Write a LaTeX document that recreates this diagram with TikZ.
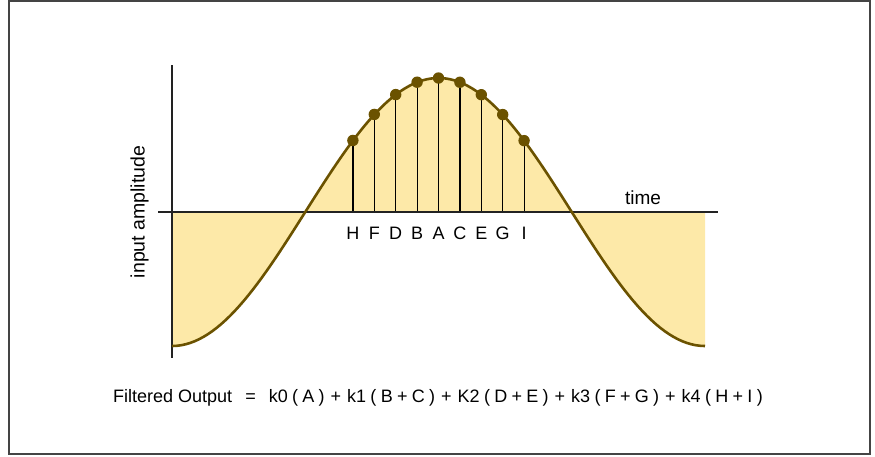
\documentclass[tikz,border=0pt]{standalone}
\usepackage{fontspec}
\setmainfont{Liberation Sans}
\usepackage{tikz}
\definecolor{wavefill}{HTML}{FDE9A8}
\definecolor{wavecol}{HTML}{6B5200}
\definecolor{axiscol}{HTML}{222222}
\definecolor{framecol}{HTML}{444444}
\newcommand{\gp}{\hspace{4.3pt}}
\newcommand{\pl}{\hspace{6pt}+\hspace{6pt}}

\begin{document}
\begin{tikzpicture}[x=1pt,y=-1pt,
  frame/.style={draw=framecol,line width=2pt},
  axis/.style={draw=axiscol,line width=1.8pt},
  wave/.style={draw=wavecol,line width=2.6pt,line join=round},
  sample/.style={draw=black,line width=1.2pt},
  tap/.style={fill=wavecol},
  lbl/.style={font=\fontsize{18}{20}\selectfont,inner sep=0pt}]
\useasboundingbox (0,0) rectangle (875,456);
\draw[frame] (8.5,0.8) rectangle (870,454);

% shaded area under the input wave
\fill[wavefill] (172,212) -- plot[domain=172:705,samples=120]
  (\x,{212-134*cos((\x-438.5)/533*360)}) -- (705,212) -- cycle;

% filter taps
\foreach \k/\t in {-4/H,-3/F,-2/D,-1/B,0/A,1/C,2/E,3/G,4/I}{
  \pgfmathsetmacro{\x}{438.5+21.4*\k}
  \pgfmathsetmacro{\y}{212-134*cos(21.4*\k/533*360)}
  \coordinate (s\t) at (\x,212);
  \coordinate (d\t) at (\x,\y);
  \draw[sample] (s\t) -- (d\t);
  \node[lbl,anchor=base] (l\t) at (\x,239) {\t};
}

% axes
\coordinate (xl) at (158,212);
\coordinate (xr) at (718,212);
\coordinate (yt) at (172,65);
\coordinate (yb) at (172,358);
\draw[axis] (xl) -- (xr);
\draw[axis] (yt) -- (yb);
\node[font=\fontsize{19}{21}\selectfont,anchor=base] (time) at (643,204) {time};
\node[font=\fontsize{19.5}{21}\selectfont,rotate=90] (amp) at (139.5,212) {input amplitude};

% input wave
\draw[wave] plot[domain=172:705,samples=120]
  (\x,{212-134*cos((\x-438.5)/533*360)});
\foreach \t in {H,F,D,B,A,C,E,G,I}
  \fill[tap] (d\t) circle (5.7pt);

\node[font=\fontsize{18}{20}\selectfont,anchor=base west,inner sep=0pt] (out) at (113,402)
{Filtered Output\hspace{13pt}=\hspace{13pt}k0\gp(\gp A\gp)\pl k1\gp(\gp B\gp+\gp C\gp)\pl
 K2\gp(\gp D\gp+\gp E\gp)\pl k3\gp(\gp F\gp+\gp G\gp)\pl k4\gp(\gp H\gp+\gp I\gp)};
\end{tikzpicture}
\end{document}
